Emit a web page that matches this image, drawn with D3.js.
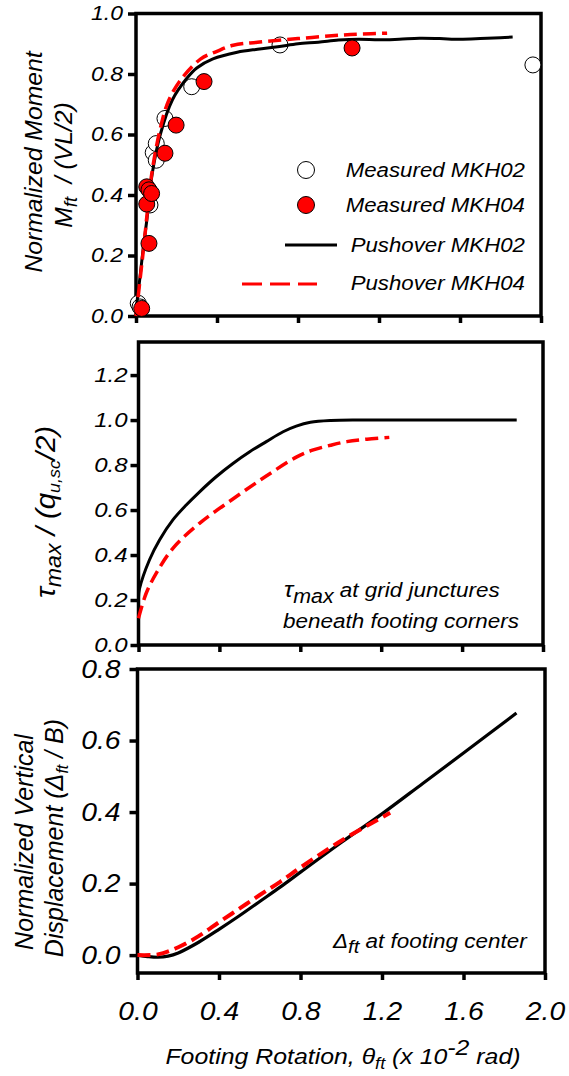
<!DOCTYPE html>
<html>
<head>
<meta charset="utf-8">
<script src="https://cdn.jsdelivr.net/npm/d3@7"></script>
<style>
  body { margin: 0; background: #fff; }
  text { font-family: "Liberation Sans", Arial, sans-serif; font-style: italic; fill: #000; }
</style>
</head>
<body>
<svg id="chart" width="569" height="1076"></svg>
<script>
// ---- axis ticks ----
const thetaTicks  = [0, 0.4, 0.8, 1.2, 1.6, 2.0];
const momentTicks = [0, 0.2, 0.4, 0.6, 0.8, 1.0];
const shearTicks  = [0, 0.2, 0.4, 0.6, 0.8, 1.0, 1.2];
const settleTicks = [0, 0.2, 0.4, 0.6, 0.8];

// ---- measured normalized moment vs footing rotation ----
const measMKH02Theta  = [0.011, 0.02, 0.069, 0.085, 0.10, 0.10, 0.143, 0.275, 0.711, 1.96];
const measMKH02Moment = [0.042, 0.03, 0.367, 0.54, 0.57, 0.515, 0.653, 0.758, 0.896, 0.83];
const measMKH04Theta  = [0.028, 0.064, 0.053, 0.053, 0.064, 0.077, 0.143, 0.198, 0.336, 1.067];
const measMKH04Moment = [0.025, 0.24, 0.37, 0.427, 0.417, 0.405, 0.538, 0.631, 0.775, 0.886];

// ---- pushover normalized moment ----
const pushMKH02Theta  = [0, 0.02, 0.035, 0.054, 0.08, 0.12, 0.18, 0.25, 0.30, 0.38, 0.5, 0.6, 0.7, 0.8, 0.9, 1.0, 1.1, 1.2, 1.3, 1.4, 1.5, 1.6, 1.7, 1.8, 1.86];
const pushMKH02Moment = [0.02, 0.13, 0.22, 0.32, 0.47, 0.60, 0.715, 0.785, 0.82, 0.85, 0.872, 0.882, 0.89, 0.90, 0.905, 0.912, 0.915, 0.913, 0.915, 0.918, 0.917, 0.915, 0.917, 0.92, 0.922];
const pushMKH04Theta  = [0, 0.02, 0.04, 0.06, 0.08, 0.12, 0.16, 0.22, 0.32, 0.4, 0.48, 0.6, 0.8, 1.0, 1.1, 1.24];
const pushMKH04Moment = [0.0, 0.12, 0.24, 0.37, 0.48, 0.62, 0.71, 0.78, 0.85, 0.875, 0.895, 0.905, 0.917, 0.928, 0.932, 0.935];

// ---- pushover maximum shear stress beneath footing corners ----
const tauMKH02Theta = [0, 0.005, 0.054, 0.104, 0.17, 0.236, 0.302, 0.384, 0.467, 0.55, 0.632, 0.715, 0.78, 0.85, 0.95, 1.1, 1.4, 1.87];
const tauMKH02Ratio = [0.213, 0.25, 0.378, 0.467, 0.556, 0.622, 0.681, 0.748, 0.807, 0.859, 0.904, 0.948, 0.973, 0.99, 0.998, 1.0, 1.0, 1.0];
const tauMKH04Theta = [0, 0.038, 0.088, 0.17, 0.30, 0.465, 0.63, 0.78, 0.86, 0.95, 1.03, 1.13, 1.24];
const tauMKH04Ratio = [0.119, 0.23, 0.319, 0.43, 0.54, 0.648, 0.75, 0.835, 0.866, 0.888, 0.904, 0.915, 0.923];

// ---- pushover vertical displacement at footing center ----
const dispMKH02Theta = [0, 0.05, 0.1, 0.15, 0.2, 0.3, 0.4, 0.5, 0.6, 0.7, 0.8, 1.0, 1.2, 1.4, 1.6, 1.86];
const dispMKH02Ratio = [0, -0.004, -0.006, -0.003, 0.006, 0.036, 0.072, 0.11, 0.15, 0.19, 0.232, 0.315, 0.395, 0.48, 0.565, 0.677];
const dispMKH04Theta = [0, 0.1, 0.2, 0.3, 0.4, 0.5, 0.6, 0.7, 0.8, 1.0, 1.24];
const dispMKH04Ratio = [0, 0.002, 0.022, 0.053, 0.092, 0.13, 0.168, 0.205, 0.245, 0.32, 0.398];

const svg = d3.select("#chart");
const RED = "#ff0000";
const zip = (xs, ys) => xs.map((x, i) => [x, ys[i]]);

// stretch simple tick labels a little wider than the default glyph width
function widen(sel, k) {
  sel.each(function () {
    const w = this.getComputedTextLength();
    d3.select(this).attr("textLength", w * k).attr("lengthAdjust", "spacingAndGlyphs");
  });
}

function makePanel(opt) {
  const x = d3.scaleLinear().domain([0, 2]).range([opt.left, opt.right]);
  const y = d3.scaleLinear().domain(opt.yDomain).range([opt.bottom, opt.top]);
  const g = svg.append("g");

  // frame
  g.append("rect")
    .attr("x", opt.left).attr("y", opt.top)
    .attr("width", opt.right - opt.left).attr("height", opt.bottom - opt.top)
    .attr("fill", "none").attr("stroke", "#000").attr("stroke-width", 3.5);

  const yAxis = g.append("g")
    .attr("transform", `translate(${opt.left},0)`)
    .call(d3.axisLeft(y).tickValues(opt.yTicks).tickSize(8).tickPadding(opt.yPad)
      .tickFormat(d3.format(".1f")));
  yAxis.select(".domain").remove();
  yAxis.selectAll(".tick line").attr("stroke-width", 3.5);
  yAxis.selectAll(".tick text").style("font-size", opt.yFont + "px")
    .style("font-family", "'Liberation Sans', Arial, sans-serif").style("font-style", "italic");
  widen(yAxis.selectAll(".tick text"), opt.yWiden);

  const xAxis = g.append("g")
    .attr("transform", `translate(0,${opt.bottom})`)
    .call(d3.axisBottom(x).tickValues(thetaTicks).tickSize(7).tickPadding(22)
      .tickFormat(opt.xLabels ? d3.format(".1f") : () => ""));
  xAxis.select(".domain").remove();
  xAxis.selectAll(".tick line").attr("stroke-width", 3.5);
  xAxis.selectAll(".tick text").style("font-size", "25px")
    .style("font-family", "'Liberation Sans', Arial, sans-serif").style("font-style", "italic");
  if (opt.xLabels) widen(xAxis.selectAll(".tick text"), 1.13);

  return { g, x, y };
}

function drawLine(p, xs, ys, color, dashed, width) {
  const line = d3.line().x(d => p.x(d[0])).y(d => p.y(d[1])).curve(d3.curveCatmullRom.alpha(0.5));
  p.g.append("path")
    .datum(zip(xs, ys))
    .attr("d", line)
    .attr("fill", "none")
    .attr("stroke", color)
    .attr("stroke-width", width)
    .attr("stroke-dasharray", dashed ? "13,6" : null);
}

// ===== Panel 1: normalized moment =====
const p1 = makePanel({ left: 136, right: 541, top: 13.5, bottom: 316, yDomain: [0, 1],
  yTicks: momentTicks, yPad: 5, yFont: 20, yWiden: 1.15, xLabels: false });

p1.g.append("g").selectAll("circle")
  .data(zip(measMKH02Theta, measMKH02Moment)).join("circle")
  .attr("cx", d => p1.x(d[0])).attr("cy", d => p1.y(d[1])).attr("r", 8)
  .attr("fill", "#fff").attr("stroke", "#000").attr("stroke-width", 1);
drawLine(p1, pushMKH02Theta, pushMKH02Moment, "#000", false, 3);
drawLine(p1, pushMKH04Theta, pushMKH04Moment, RED, true, 3.5);
p1.g.append("g").selectAll("circle")
  .data(zip(measMKH04Theta, measMKH04Moment)).join("circle")
  .attr("cx", d => p1.x(d[0])).attr("cy", d => p1.y(d[1])).attr("r", 8)
  .attr("fill", RED).attr("stroke", "#000").attr("stroke-width", 1);

// legend
const lg = svg.append("g");
const legendRows = [
  { label: "Measured MKH02", kind: "open",  y: 170, base: 177 },
  { label: "Measured MKH04", kind: "fill",  y: 205, base: 212 },
  { label: "Pushover MKH02", kind: "solid", y: 245, base: 252 },
  { label: "Pushover MKH04", kind: "dash",  y: 284, base: 290 }
];
legendRows.forEach(r => {
  if (r.kind === "open" || r.kind === "fill") {
    lg.append("circle").attr("cx", 306).attr("cy", r.y).attr("r", 8.5)
      .attr("fill", r.kind === "open" ? "#fff" : RED).attr("stroke", "#000").attr("stroke-width", 1);
  } else if (r.kind === "solid") {
    lg.append("line").attr("x1", 285).attr("x2", 337).attr("y1", r.y).attr("y2", r.y)
      .attr("stroke", "#000").attr("stroke-width", 3);
  } else {
    lg.append("line").attr("x1", 242).attr("x2", 317).attr("y1", r.y).attr("y2", r.y)
      .attr("stroke", RED).attr("stroke-width", 3).attr("stroke-dasharray", "20,8");
  }
  lg.append("text").attr("transform", `translate(525,${r.base}) scale(1.06,1)`)
    .attr("text-anchor", "end").style("font-size", "21px").text(r.label);
});

// y title
svg.append("text").attr("transform", "translate(42,162) rotate(-90) scale(1.03,1)")
  .attr("text-anchor", "middle").style("font-size", "24px").text("Normalized Moment");
const t1b = svg.append("text").attr("transform", "translate(72,165) rotate(-90) scale(1.03,1)")
  .attr("text-anchor", "middle").style("font-size", "24px");
t1b.append("tspan").text("M");
t1b.append("tspan").attr("dy", 5).style("font-size", "18px").text("ft");
t1b.append("tspan").attr("dy", -5).text("\u00a0\u00a0/ (VL/2)");

// ===== Panel 2: maximum shear stress =====
const p2 = makePanel({ left: 138.5, right: 543, top: 342, bottom: 645, yDomain: [0, 1.347],
  yTicks: shearTicks, yPad: 3, yFont: 20, yWiden: 1.2, xLabels: false });
drawLine(p2, tauMKH02Theta, tauMKH02Ratio, "#000", false, 3);
drawLine(p2, tauMKH04Theta, tauMKH04Ratio, RED, true, 3.5);

const t2 = svg.append("text").attr("transform", "translate(55,512) rotate(-90) scale(1.05,1)")
  .attr("text-anchor", "middle").style("font-size", "28px");
t2.append("tspan").text("\u03c4");
t2.append("tspan").attr("dy", 6).style("font-size", "22px").text("max");
t2.append("tspan").attr("dy", -6).text(" / (q");
t2.append("tspan").attr("dy", 5).style("font-size", "17px").text("u,sc");
t2.append("tspan").attr("dy", -5).text("/2)");

const a2a = svg.append("text").attr("transform", "translate(284,597) scale(1.07,1)")
  .style("font-size", "21px");
a2a.append("tspan").style("font-size", "23px").text("\u03c4");
a2a.append("tspan").attr("dy", 6).style("font-size", "20px").text("max");
a2a.append("tspan").attr("dy", -6).text(" at grid junctures");
svg.append("text").attr("transform", "translate(283,628) scale(1.07,1)")
  .style("font-size", "21px").text("beneath footing corners");

// ===== Panel 3: vertical displacement =====
const p3 = makePanel({ left: 137.5, right: 545, top: 669, bottom: 973, yDomain: [-0.05, 0.8],
  yTicks: settleTicks, yPad: 9, yFont: 25, yWiden: 1.13, xLabels: true });
drawLine(p3, dispMKH02Theta, dispMKH02Ratio, "#000", false, 3.2);
drawLine(p3, dispMKH04Theta, dispMKH04Ratio, RED, true, 4);

const a3 = svg.append("text").attr("transform", "translate(333,948) scale(1.07,1)")
  .style("font-size", "21px");
a3.append("tspan").text("\u0394");
a3.append("tspan").attr("dy", 5).style("font-size", "19px").text("ft");
a3.append("tspan").attr("dy", -5).text(" at footing center");

svg.append("text").attr("transform", "translate(33,842) rotate(-90)")
  .attr("text-anchor", "middle").style("font-size", "25px").text("Normalized Vertical");
const t3b = svg.append("text").attr("transform", "translate(63,838) rotate(-90)")
  .attr("text-anchor", "middle").style("font-size", "25px");
t3b.append("tspan").text("Displacement (");
t3b.append("tspan").text("\u0394");
t3b.append("tspan").attr("dy", 5).style("font-size", "16px").text("ft");
t3b.append("tspan").attr("dy", -5).text(" / B)");

// x title
const tx = svg.append("text").attr("transform", "translate(343,1064) scale(1.13,1)")
  .attr("text-anchor", "middle").style("font-size", "22px");
tx.append("tspan").text("Footing Rotation, \u03b8");
tx.append("tspan").attr("dy", 5).style("font-size", "16px").text("ft");
tx.append("tspan").attr("dy", -5).text(" (x 10");
tx.append("tspan").attr("dy", -9).style("font-size", "22px").text("-2");
tx.append("tspan").attr("dy", 9).text(" rad)");
</script>
</body>
</html>
